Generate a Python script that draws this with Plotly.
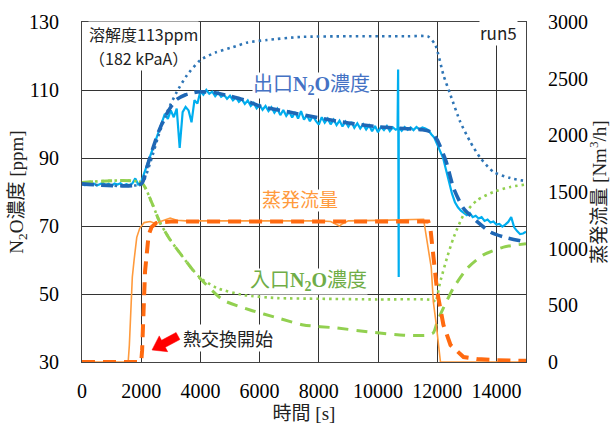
import plotly.graph_objects as go

# ---------------- data ----------------
# Outlet N2O concentration, measured (ppm), every 100 s from 0 to 15000 s
t_out_meas = list(range(0, 15001, 100))
v_out_meas = [
    82.4, 82.0, 82.6, 82.1, 82.5, 81.9, 82.3, 82.7, 82.0, 82.4,
    81.8, 82.5, 82.2, 82.6, 81.9, 82.3, 82.0, 82.5, 84.0, 82.2,
    83.0, 85.5, 87.8, 90.5, 93.0, 95.5, 98.2, 100.5, 103.0, 101.5,
    104.0, 102.0, 104.5, 93.0, 103.5, 105.0, 104.0, 100.5, 107.0, 106.0,
    109.6, 108.6, 110.0, 108.9, 109.5, 108.2, 109.2, 108.0, 108.6, 107.4,
    108.3, 107.0, 107.8, 106.5, 107.3, 105.9, 106.9, 105.3, 106.2, 104.6,
    105.6, 104.2, 105.3, 103.8, 104.9, 103.3, 104.5, 102.6, 104.1, 102.4,
    103.6, 101.9, 103.5, 101.6, 103.8, 101.3, 102.6, 100.8, 102.4, 100.9,
    99.8, 102.0, 100.4, 101.6, 99.9, 101.3, 99.7, 101.0, 99.3, 100.7,
    99.2, 100.6, 98.9, 100.2, 98.7, 99.9, 98.4, 99.6, 97.9, 99.4,
    97.6, 99.1, 98.2, 99.4, 97.9, 99.0, 98.3, 98.9, 98.0, 99.1,
    98.3, 99.0, 98.2, 99.1, 98.4, 99.0, 98.7, 98.2, 97.0, 96.0,
    94.0, 92.0, 90.0, 86.5, 82.5, 79.5, 77.0, 75.5, 74.5, 73.8,
    73.2, 73.8, 72.6, 73.0, 72.2, 72.6, 71.5, 71.9, 71.0, 71.3,
    70.4, 70.6, 69.8, 70.4, 71.2, 72.6, 69.6, 68.5, 67.6, 67.8,
    68.3,
]
# spike in the measured outlet signal
t_spike = [10660, 10680, 10700, 10720]
v_spike = [98.6, 116.0, 55.0, 98.8]

# Outlet N2O concentration, model (dashed)
t_out_model = [0, 2000, 2200, 2400, 2600, 2800, 3000, 3200, 3500, 3800, 4000, 4500,
               5000, 5500, 6000, 7000, 8000, 9000, 10000, 11000, 11500, 11800, 12000,
               12300, 12550, 12880, 13360, 13800, 14240, 15000]
v_out_model = [82.4, 82.4, 87.5, 93.0, 98.0, 102.0, 105.0, 107.2, 108.6, 109.3, 109.5, 109.2,
               108.2, 107.0, 105.3, 103.5, 101.8, 100.3, 99.2, 98.6, 98.3, 97.6, 95.3,
               89.0, 81.2, 75.3, 71.2, 68.2, 66.8, 65.3]

# Solubility-type curve (blue dotted)
t_sol = [0, 2000, 2300, 2600, 2900, 3200, 3550, 4000, 4500, 5100, 5600, 6250, 7370,
         9000, 11000, 11700, 11940, 12210, 12450, 12780, 13120, 13460, 13900, 14470, 15000]
v_sol = [82.4, 82.4, 88.5, 97.0, 104.0, 109.4, 114.4, 118.8, 121.0, 122.6, 124.0, 124.7, 125.6,
         125.8, 125.8, 125.7, 123.2, 114.4, 108.5, 100.6, 94.7, 90.0, 85.9, 84.1, 83.2]

# Inlet N2O concentration, measured (green dotted)
t_in_meas = [0, 2000, 2360, 2640, 2980, 3310, 3750, 4000, 4550, 5450, 6600, 8000, 10000,
             11870, 11940, 12100, 12330, 12550, 12890, 13350, 13900, 14470, 15000]
v_in_meas = [82.8, 82.8, 76.8, 70.9, 65.9, 62.0, 57.0, 54.7, 51.8, 49.7, 48.8, 48.6, 48.4,
             48.2, 47.6, 53.5, 60.6, 66.5, 73.2, 77.6, 80.0, 81.5, 82.2]

# Inlet N2O concentration, model (green dashed)
t_in_model = [0, 2000, 2360, 2640, 2980, 3310, 3750, 4000, 4770, 5680, 6600, 7480, 8610,
              9740, 10860, 11660, 11870, 12000, 12210, 12550, 13020, 13560, 14240, 15000]
v_in_model = [82.8, 82.8, 76.8, 70.9, 65.9, 62.0, 57.0, 54.5, 48.2, 45.3, 43.0, 40.9, 40.0,
              38.8, 37.9, 37.9, 38.6, 41.8, 45.9, 51.8, 57.6, 61.5, 63.8, 64.8]

# Evaporation flow, measured (Nm3/h, right axis)
t_evap_meas = [0, 1560, 1600, 1650, 1700, 1760, 1850, 1950, 2100, 2300, 2500, 2700, 2980,
               3200, 3500, 4000, 5000, 6000, 7000, 8000, 8400, 8600, 8700, 8800, 9000,
               10000, 11000, 11540, 11800, 11870, 11970, 12080, 12110, 15000]
v_evap_meas = [0, 0, 150, 520, 750, 900, 1100, 1180, 1230, 1240, 1220, 1245, 1270,
               1250, 1245, 1245, 1245, 1250, 1250, 1245, 1240, 1215, 1200, 1220, 1245,
               1250, 1255, 1260, 830, 530, 327, 35, 0, 0]

# Evaporation flow, model (thick dashed)
t_evap_model = [0, 2000, 2030, 2130, 2250, 2350, 2500, 3000, 5000, 8000, 11000, 11700,
                11770, 12000, 12210, 12450, 12890, 13350, 14000, 15000]
v_evap_model = [0, 0, 100, 800, 1120, 1190, 1225, 1240, 1240, 1240, 1240, 1240,
                1180, 620, 327, 150, 44, 26, 15, 10]

x_ticks = [0, 2000, 4000, 6000, 8000, 10000, 12000, 14000]
x_tick_labels = ["0", "2000", "4000", "6000", "8000", "10000", "12000", "14000"]
y_ticks = [30, 50, 70, 90, 110, 130]
y2_ticks = [0, 500, 1000, 1500, 2000, 2500, 3000]

# ---------------- figure ----------------
pairs = sorted(zip(t_out_meas + t_spike, v_out_meas + v_spike))
tm = [p[0] for p in pairs]
vm = [p[1] for p in pairs]

fig = go.Figure()
fig.add_trace(go.Scatter(x=tm, y=vm, mode="lines",
                         line=dict(color="#00AEEF", width=2.2)))
fig.add_trace(go.Scatter(x=t_evap_meas, y=v_evap_meas, mode="lines", yaxis="y2",
                         line=dict(color="#FF9A3C", width=1.6)))
fig.add_trace(go.Scatter(x=t_in_meas, y=v_in_meas, mode="lines",
                         line=dict(color="#92D050", width=2.6, dash="2.5px,4px", shape="spline", smoothing=0.6)))
fig.add_trace(go.Scatter(x=t_in_model, y=v_in_model, mode="lines",
                         line=dict(color="#92D050", width=3, dash="11px,8px", shape="spline", smoothing=0.6)))
fig.add_trace(go.Scatter(x=t_sol, y=v_sol, mode="lines",
                         line=dict(color="#2E75B6", width=2.6, dash="2.5px,4px", shape="spline", smoothing=0.6)))
fig.add_trace(go.Scatter(x=t_out_model, y=v_out_model, mode="lines",
                         line=dict(color="#1F67B5", width=3.6, dash="12px,7px", shape="spline", smoothing=0.6)))
fig.add_trace(go.Scatter(x=t_evap_model, y=v_evap_model, mode="lines", yaxis="y2",
                         line=dict(color="#FF6A10", width=4, dash="13px,8px")))

serif = "Liberation Serif, Noto Sans CJK JP"
sans = "Noto Sans CJK JP, Noto Sans"
grid = "#333333"

fig.update_layout(
    width=610, height=424,
    margin=dict(l=82, r=84, t=22, b=62),
    paper_bgcolor="white", plot_bgcolor="white",
    showlegend=False,
    xaxis=dict(range=[0, 15000], tickvals=x_ticks, ticktext=x_tick_labels, automargin=False,
               showgrid=True, gridcolor=grid, gridwidth=1,
               showline=True, linecolor="#444", linewidth=1, mirror=True, zeroline=False,
               ticks="", ticklabelstandoff=11,
               tickfont=dict(family=serif, size=20, color="black"),
               title=dict(text="時間 [s]", font=dict(family=serif, size=19, color="#222"), standoff=13)),
    yaxis=dict(range=[30, 130], tickvals=y_ticks, automargin=False,
               showgrid=True, gridcolor=grid, gridwidth=1,
               showline=True, linecolor="#444", linewidth=1, mirror=True, zeroline=False,
               ticks="", ticklabelstandoff=18,
               tickfont=dict(family=serif, size=20, color="black"),
               title=dict(text="N<sub>2</sub>O濃度 [ppm]", font=dict(family=serif, size=19, color="#222"), standoff=0)),
    yaxis2=dict(range=[0, 3000], tickvals=y2_ticks, overlaying="y", side="right", showgrid=False,
                automargin=False,
                zeroline=False, showline=False, ticks="", ticklabelstandoff=21,
                tickfont=dict(family=serif, size=20, color="black"),
                title=dict(text="蒸発流量 [Nm<sup>3</sup>/h]", font=dict(family=serif, size=19, color="#222"), standoff=4)),
)

PL, PT, PW, PH = 82, 22, 444, 340  # plot-area pixel frame


def px2paper(x, y):
    return (x - PL) / PW, (PT + PH - y) / PH


def note(text, x, y, xanchor="center", color="#222", size=16, family=sans):
    fig.add_annotation(text=text, xref="paper", yref="paper", x=x, y=y, xanchor=xanchor,
                       yanchor="middle", showarrow=False, bgcolor="white", borderpad=0,
                       font=dict(family=family, size=size, color=color))


note("溶解度113ppm", 0.0135, 0.965, xanchor="left", size=16)
note("（182 kPaA）", 0.0135, 0.894, xanchor="left", size=16)
note("run5", 0.982, 0.968, xanchor="right", size=17)
note("出口<b>N<sub>2</sub>O</b>濃度", 0.516, 0.812, color="#4472C4", size=20, family=serif)
note("蒸発流量", 0.491, 0.474, color="#FF9A3C", size=19, family=serif)
note("入口<b>N<sub>2</sub>O</b>濃度", 0.511, 0.238, color="#70AD47", size=20, family=serif)
note("熱交換開始", 0.225, 0.0706, xanchor="left", size=18)

# red block arrow (pointing lower-left towards the start of heat exchange)
arrow_px = [(152, 350), (167.7, 351.7), (165.35, 347.3), (179.9, 339.5),
            (176.1, 332.5), (161.55, 340.3), (159.2, 335.9)]
pts = [px2paper(x, y) for x, y in arrow_px]
path = "M " + " L ".join(f"{a:.4f},{b:.4f}" for a, b in pts) + " Z"
fig.add_shape(type="path", xref="paper", yref="paper", path=path,
              fillcolor="#FF0000", line=dict(color="#FF0000", width=0.5))

fig.write_html("out.html")
